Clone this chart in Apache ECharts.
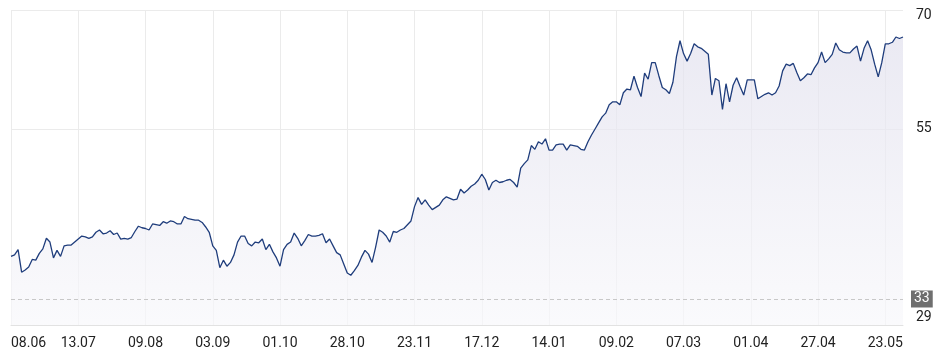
<!DOCTYPE html>
<html>
<head>
<meta charset="utf-8">
<script src="https://cdn.jsdelivr.net/npm/echarts@6/dist/echarts.min.js"></script>
<style>
  html, body { margin: 0; padding: 0; background: #ffffff; }
  #chart { width: 942px; height: 362px; }
</style>
</head>
<body>
<div id="chart"></div>
<script>
// ---- data ----
const tickLabels = ['08.06','13.07','09.08','03.09','01.10','28.10','23.11','17.12','14.01','09.02','07.03','01.04','27.04','23.05'];
const ticksEvery = 19; // trading days between tick labels

const prices = [
  38.1, 38.3, 39.0, 36.0, 36.3, 36.7, 37.7, 37.6, 38.5, 39.1, 40.5, 40.0, 37.9, 38.9, 38.1, 39.5, 39.6, 39.6, 40.0, 40.4, 40.8, 40.7, 40.5, 40.7, 41.3, 41.6, 41.1, 41.2, 41.5, 41.0, 41.2, 40.4, 40.5,
  40.4, 40.6, 41.4, 42.1, 41.9, 41.8, 41.6, 42.4, 42.3, 42.2, 42.7, 42.5, 42.8, 42.7, 42.4, 42.4, 43.4, 43.1, 43.0, 42.9, 42.9, 42.6, 42.0, 41.3, 39.5, 38.9, 36.6, 37.6, 36.8, 37.3, 38.3, 40.0,
  40.8, 40.8, 39.8, 39.5, 40.0, 39.9, 40.4, 39.0, 39.7, 38.7, 37.9, 36.8, 39.0, 39.7, 40.0, 41.2, 40.5, 39.5, 40.2, 41.0, 40.8, 40.8, 40.9, 41.1, 39.9, 40.4, 39.5, 38.6, 38.3, 37.1, 35.9,
  35.6, 36.2, 36.9, 38.0, 38.9, 38.4, 37.3, 39.3, 41.6, 41.3, 40.8, 40.0, 41.4, 41.3, 41.6, 41.8, 42.3, 42.8, 44.7, 45.9, 45.0, 45.6, 44.9, 44.3, 44.6, 44.9, 45.6, 46.0, 45.8, 45.6, 45.7, 47.0,
  46.5, 46.9, 47.4, 47.7, 48.2, 49.0, 48.3, 46.9, 47.9, 48.2, 47.9, 48.0, 48.2, 48.3, 47.9, 47.3, 49.8, 50.4, 50.9, 52.8, 52.3, 53.3, 53.0, 53.7, 52.2, 52.2, 52.9, 53.0, 53.0, 52.2, 52.9, 52.8, 52.7, 52.3, 52.2, 53.3, 54.2, 55.0, 55.8, 56.6, 57.1, 58.2, 58.6, 58.6, 58.2, 59.8, 60.3,
  60.2, 62.0, 60.5, 59.3, 62.4, 61.6, 63.8, 63.8, 62.1, 60.5, 60.2, 59.7, 61.2, 64.6, 66.7, 65.0, 64.0, 65.0, 66.3, 65.9, 65.7, 65.3, 64.9, 59.5, 61.7, 61.4, 57.6, 61.0, 58.6, 60.8, 61.8, 60.6, 59.5, 61.5, 61.5, 61.5, 59.0, 59.3, 59.6, 59.8, 59.5, 59.8, 60.7, 62.7, 63.6, 63.4, 63.7, 62.5, 61.4, 61.8, 62.3, 62.2, 63.1, 63.8, 65.2, 63.8, 64.3, 64.9, 66.4, 65.5, 65.2, 65.1, 65.1, 65.6, 66.0, 64.0, 65.7, 66.7, 65.5, 63.6, 61.9, 63.8, 66.3, 66.3, 66.5, 67.2, 67.0, 67.2
];

const yLabels = [29, 55, 70];
const yMin = 29;
const yMax = 70.78;
const refValue = 32.45;
const refLabel = '33';

// ---- chart ----
const categories = prices.map((_, i) => String(i));
const chart = echarts.init(document.getElementById('chart'), null, { renderer: 'canvas' });

chart.setOption({
  animation: false,
  backgroundColor: '#ffffff',
  textStyle: { fontFamily: 'Roboto, "DejaVu Sans", sans-serif' },
  grid: { left: 11, right: 39, top: 10, bottom: 37, containLabel: false },
  xAxis: {
    type: 'category',
    data: categories,
    boundaryGap: false,
    axisLine: { show: true, lineStyle: { color: '#e2e2e2', width: 1 } },
    axisTick: { show: false },
    axisLabel: {
      interval: ticksEvery - 1,
      alignMinLabel: 'left',
      margin: 11,
      color: '#222222',
      fontSize: 14,
      fontFamily: 'Roboto',
      formatter: function (val, idx) {
        const k = idx / ticksEvery;
        return Number.isInteger(k) && tickLabels[k] ? tickLabels[k] : '';
      }
    },
    splitLine: { show: true, interval: ticksEvery - 1, lineStyle: { color: '#ebebeb', width: 1 } }
  },
  yAxis: {
    type: 'value',
    position: 'right',
    min: yMin,
    max: yMax,
    interval: 26,
    axisLine: { show: false },
    axisTick: { show: false },
    splitLine: { show: true, lineStyle: { color: '#ebebeb', width: 1 } },
    axisLabel: {
      customValues: yLabels,
      margin: 13,
      color: '#222222',
      fontSize: 14,
      fontFamily: 'Roboto',
      formatter: function (v) {
        return v === yMin ? '{lo|' + v + '}' : String(v);
      },
      rich: {
        lo: { fontSize: 14, color: '#222222', fontFamily: 'Roboto', padding: [0, 0, 16, 0] }
      }
    }
  },
  series: [{
    type: 'line',
    data: prices,
    symbol: 'none',
    smooth: false,
    lineStyle: { color: '#1f3d7c', width: 1.3 },
    areaStyle: {
      color: new echarts.graphic.LinearGradient(0, 0, 0, 1, [
        { offset: 0, color: '#e2e1ee' },
        { offset: 1, color: '#f8f8fb' }
      ])
    },
    markLine: {
      silent: true,
      symbol: 'none',
      animation: false,
      lineStyle: { type: [4, 3], color: '#c8c8c8', width: 1 },
      label: {
        show: true,
        position: 'end',
        distance: 8,
        formatter: refLabel,
        backgroundColor: '#6f6f6f',
        color: '#ffffff',
        fontSize: 14,
        fontFamily: 'Roboto',
        padding: [2, 3, 1, 3]
      },
      data: [{ yAxis: refValue }]
    }
  }]
});
</script>
</body>
</html>
